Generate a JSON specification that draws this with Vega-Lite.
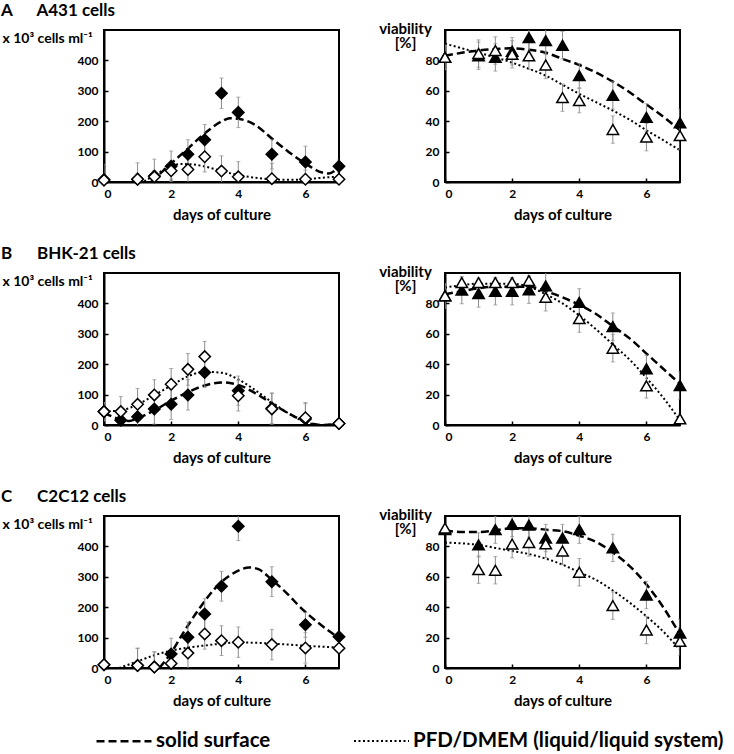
{
  "$schema": "https://vega.github.io/schema/vega-lite/v6.json",
  "padding": {"left": 0, "top": 1, "right": 5, "bottom": 5},
  "bounds": "flush",
  "columns": 2,
  "spacing": {"row": 91, "column": 106},
  "config": {
    "font": "Lato",
    "view": {"stroke": "black", "strokeWidth": 2},
    "axis": {"grid": false, "domainColor": "black", "domainWidth": 2, "tickColor": "black", "tickSize": -4, "tickWidth": 1.5, "labelFont": "Lato", "labelFontWeight": "bold", "labelFontSize": 12, "labelColor": "black", "titleFont": "Lato", "titleFontWeight": "bold", "titleColor": "black"},
    "axisX": {"labelPadding": 10, "titleFontSize": 15, "titlePadding": 8},
    "axisY": {"labelPadding": 10, "titleFontSize": 14},
    "title": {"font": "Lato", "fontSize": 17, "fontWeight": "bold", "anchor": "start", "frame": "group", "color": "black", "offset": 10, "dx": -103},
    "legend": {"orient": "none", "legendX": -9, "legendY": 682, "direction": "horizontal", "symbolType": "stroke", "symbolSize": 3025, "symbolStrokeWidth": 2.5, "symbolStrokeColor": "black", "labelFont": "Lato", "labelFontWeight": "bold", "labelFontSize": 20.5, "labelColor": "black", "labelLimit": 500, "labelOffset": 3, "columnPadding": 79}
  },
  "datasets": {
    "pts": [
      {"p": "A1", "s": "solid", "d": 0, "v": 8, "e": 50},
      {"p": "A1", "s": "solid", "d": 1, "v": 9, "e": 54},
      {"p": "A1", "s": "solid", "d": 1.5, "v": 20, "e": 55},
      {"p": "A1", "s": "solid", "d": 2, "v": 52, "e": 50},
      {"p": "A1", "s": "solid", "d": 2.5, "v": 91, "e": 48},
      {"p": "A1", "s": "solid", "d": 3, "v": 139, "e": 50},
      {"p": "A1", "s": "solid", "d": 3.5, "v": 292, "e": 50},
      {"p": "A1", "s": "solid", "d": 4, "v": 229, "e": 50},
      {"p": "A1", "s": "solid", "d": 5, "v": 91, "e": 48},
      {"p": "A1", "s": "solid", "d": 6, "v": 66, "e": 52},
      {"p": "A1", "s": "solid", "d": 7, "v": 52, "e": 20},
      {"p": "A1", "s": "pfd", "d": 0, "v": 6, "e": 20},
      {"p": "A1", "s": "pfd", "d": 1, "v": 9, "e": 20},
      {"p": "A1", "s": "pfd", "d": 1.5, "v": 17, "e": 20},
      {"p": "A1", "s": "pfd", "d": 2, "v": 37, "e": 30},
      {"p": "A1", "s": "pfd", "d": 2.5, "v": 41, "e": 50},
      {"p": "A1", "s": "pfd", "d": 3, "v": 83, "e": 50},
      {"p": "A1", "s": "pfd", "d": 3.5, "v": 36, "e": 50},
      {"p": "A1", "s": "pfd", "d": 4, "v": 17, "e": 50},
      {"p": "A1", "s": "pfd", "d": 5, "v": 11, "e": 50},
      {"p": "A1", "s": "pfd", "d": 6, "v": 9, "e": 30},
      {"p": "A1", "s": "pfd", "d": 7, "v": 9, "e": 10},

      {"p": "A2", "s": "solid", "d": 0, "v": 82, "e": 8},
      {"p": "A2", "s": "solid", "d": 1, "v": 83, "e": 9},
      {"p": "A2", "s": "solid", "d": 1.5, "v": 82, "e": 9},
      {"p": "A2", "s": "solid", "d": 2, "v": 86, "e": 9},
      {"p": "A2", "s": "solid", "d": 2.5, "v": 95, "e": 9},
      {"p": "A2", "s": "solid", "d": 3, "v": 93, "e": 9},
      {"p": "A2", "s": "solid", "d": 3.5, "v": 90, "e": 9},
      {"p": "A2", "s": "solid", "d": 4, "v": 70, "e": 8},
      {"p": "A2", "s": "solid", "d": 5, "v": 57, "e": 9},
      {"p": "A2", "s": "solid", "d": 6, "v": 42.5, "e": 9},
      {"p": "A2", "s": "solid", "d": 7, "v": 39, "e": 9},
      {"p": "A2", "s": "pfd", "d": 0, "v": 82, "e": 8},
      {"p": "A2", "s": "pfd", "d": 1, "v": 84.5, "e": 9},
      {"p": "A2", "s": "pfd", "d": 1.5, "v": 86.5, "e": 9},
      {"p": "A2", "s": "pfd", "d": 2, "v": 84, "e": 9},
      {"p": "A2", "s": "pfd", "d": 2.5, "v": 83, "e": 9},
      {"p": "A2", "s": "pfd", "d": 3, "v": 77, "e": 9},
      {"p": "A2", "s": "pfd", "d": 3.5, "v": 55.5, "e": 9},
      {"p": "A2", "s": "pfd", "d": 4, "v": 53.5, "e": 8},
      {"p": "A2", "s": "pfd", "d": 5, "v": 34.5, "e": 9},
      {"p": "A2", "s": "pfd", "d": 6, "v": 29.5, "e": 9},
      {"p": "A2", "s": "pfd", "d": 7, "v": 30.5, "e": 9},

      {"p": "B1", "s": "solid", "d": 0, "v": 44, "e": 30},
      {"p": "B1", "s": "solid", "d": 0.5, "v": 16, "e": 40},
      {"p": "B1", "s": "solid", "d": 1, "v": 27, "e": 45},
      {"p": "B1", "s": "solid", "d": 1.5, "v": 53, "e": 50},
      {"p": "B1", "s": "solid", "d": 2, "v": 68, "e": 50},
      {"p": "B1", "s": "solid", "d": 2.5, "v": 99, "e": 50},
      {"p": "B1", "s": "solid", "d": 3, "v": 173, "e": 50},
      {"p": "B1", "s": "solid", "d": 4, "v": 113, "e": 48},
      {"p": "B1", "s": "solid", "d": 5, "v": 55, "e": 50},
      {"p": "B1", "s": "solid", "d": 6, "v": 20, "e": 50},
      {"p": "B1", "s": "solid", "d": 7, "v": 5, "e": 10},
      {"p": "B1", "s": "pfd", "d": 0, "v": 44, "e": 30},
      {"p": "B1", "s": "pfd", "d": 0.5, "v": 44, "e": 50},
      {"p": "B1", "s": "pfd", "d": 1, "v": 68, "e": 52},
      {"p": "B1", "s": "pfd", "d": 1.5, "v": 99, "e": 50},
      {"p": "B1", "s": "pfd", "d": 2, "v": 134, "e": 52},
      {"p": "B1", "s": "pfd", "d": 2.5, "v": 183, "e": 52},
      {"p": "B1", "s": "pfd", "d": 3, "v": 225, "e": 50},
      {"p": "B1", "s": "pfd", "d": 4, "v": 96, "e": 50},
      {"p": "B1", "s": "pfd", "d": 5, "v": 53, "e": 52},
      {"p": "B1", "s": "pfd", "d": 6, "v": 24, "e": 50},
      {"p": "B1", "s": "pfd", "d": 7, "v": 5, "e": 8},

      {"p": "B2", "s": "solid", "d": 0, "v": 85, "e": 8},
      {"p": "B2", "s": "solid", "d": 0.5, "v": 88.7, "e": 9},
      {"p": "B2", "s": "solid", "d": 1, "v": 86.5, "e": 9},
      {"p": "B2", "s": "solid", "d": 1.5, "v": 88, "e": 9},
      {"p": "B2", "s": "solid", "d": 2, "v": 88, "e": 9},
      {"p": "B2", "s": "solid", "d": 2.5, "v": 89, "e": 9},
      {"p": "B2", "s": "solid", "d": 3, "v": 91.5, "e": 9},
      {"p": "B2", "s": "solid", "d": 4, "v": 80.7, "e": 9},
      {"p": "B2", "s": "solid", "d": 5, "v": 64.7, "e": 9},
      {"p": "B2", "s": "solid", "d": 6, "v": 37, "e": 9},
      {"p": "B2", "s": "solid", "d": 7, "v": 26, "e": 9},
      {"p": "B2", "s": "pfd", "d": 0, "v": 85, "e": 8},
      {"p": "B2", "s": "pfd", "d": 0.5, "v": 93.7, "e": 3},
      {"p": "B2", "s": "pfd", "d": 1, "v": 93.7, "e": 3},
      {"p": "B2", "s": "pfd", "d": 1.5, "v": 93.7, "e": 3},
      {"p": "B2", "s": "pfd", "d": 2, "v": 93.7, "e": 3},
      {"p": "B2", "s": "pfd", "d": 2.5, "v": 95, "e": 3},
      {"p": "B2", "s": "pfd", "d": 3, "v": 84, "e": 9},
      {"p": "B2", "s": "pfd", "d": 4, "v": 70, "e": 9},
      {"p": "B2", "s": "pfd", "d": 5, "v": 50.5, "e": 9},
      {"p": "B2", "s": "pfd", "d": 6, "v": 25.7, "e": 8},
      {"p": "B2", "s": "pfd", "d": 7, "v": 4, "e": 3},

      {"p": "C1", "s": "solid", "d": 0, "v": 11, "e": 10},
      {"p": "C1", "s": "solid", "d": 1, "v": 8, "e": 57},
      {"p": "C1", "s": "solid", "d": 1.5, "v": 3, "e": 50},
      {"p": "C1", "s": "solid", "d": 2, "v": 46, "e": 52},
      {"p": "C1", "s": "solid", "d": 2.5, "v": 101, "e": 50},
      {"p": "C1", "s": "solid", "d": 3, "v": 178, "e": 50},
      {"p": "C1", "s": "solid", "d": 3.5, "v": 269, "e": 49},
      {"p": "C1", "s": "solid", "d": 4, "v": 466, "e": 47},
      {"p": "C1", "s": "solid", "d": 5, "v": 284, "e": 49},
      {"p": "C1", "s": "solid", "d": 6, "v": 142, "e": 41},
      {"p": "C1", "s": "solid", "d": 7, "v": 103, "e": 10},
      {"p": "C1", "s": "pfd", "d": 0, "v": 11, "e": 10},
      {"p": "C1", "s": "pfd", "d": 1, "v": 8, "e": 57},
      {"p": "C1", "s": "pfd", "d": 1.5, "v": 3, "e": 50},
      {"p": "C1", "s": "pfd", "d": 2, "v": 15, "e": 40},
      {"p": "C1", "s": "pfd", "d": 2.5, "v": 49, "e": 50},
      {"p": "C1", "s": "pfd", "d": 3, "v": 112, "e": 50},
      {"p": "C1", "s": "pfd", "d": 3.5, "v": 90, "e": 49},
      {"p": "C1", "s": "pfd", "d": 4, "v": 85, "e": 50},
      {"p": "C1", "s": "pfd", "d": 5, "v": 77, "e": 50},
      {"p": "C1", "s": "pfd", "d": 6, "v": 66, "e": 50},
      {"p": "C1", "s": "pfd", "d": 7, "v": 65, "e": 10},

      {"p": "C2", "s": "solid", "d": 0, "v": 91, "e": 3},
      {"p": "C2", "s": "solid", "d": 1, "v": 81, "e": 8},
      {"p": "C2", "s": "solid", "d": 1.5, "v": 91, "e": 9},
      {"p": "C2", "s": "solid", "d": 2, "v": 94.5, "e": 8},
      {"p": "C2", "s": "solid", "d": 2.5, "v": 94, "e": 8},
      {"p": "C2", "s": "solid", "d": 3, "v": 85.5, "e": 9},
      {"p": "C2", "s": "solid", "d": 3.5, "v": 85.5, "e": 9},
      {"p": "C2", "s": "solid", "d": 4, "v": 91, "e": 9},
      {"p": "C2", "s": "solid", "d": 5, "v": 79, "e": 9},
      {"p": "C2", "s": "solid", "d": 6, "v": 48, "e": 9},
      {"p": "C2", "s": "solid", "d": 7, "v": 23, "e": 9},
      {"p": "C2", "s": "pfd", "d": 0, "v": 92, "e": 3},
      {"p": "C2", "s": "pfd", "d": 1, "v": 64.7, "e": 9},
      {"p": "C2", "s": "pfd", "d": 1.5, "v": 64.3, "e": 9},
      {"p": "C2", "s": "pfd", "d": 2, "v": 81.5, "e": 9},
      {"p": "C2", "s": "pfd", "d": 2.5, "v": 82.6, "e": 9},
      {"p": "C2", "s": "pfd", "d": 3, "v": 81.7, "e": 9},
      {"p": "C2", "s": "pfd", "d": 3.5, "v": 77, "e": 9},
      {"p": "C2", "s": "pfd", "d": 4, "v": 63, "e": 9},
      {"p": "C2", "s": "pfd", "d": 5, "v": 41, "e": 9},
      {"p": "C2", "s": "pfd", "d": 6, "v": 25, "e": 9},
      {"p": "C2", "s": "pfd", "d": 7, "v": 17.5, "e": 9}
    ],
    "fit": [
      {"p": "A1", "s": "solid", "d": 1.4, "v": 0},
      {"p": "A1", "s": "solid", "d": 2, "v": 61},
      {"p": "A1", "s": "solid", "d": 2.5, "v": 110},
      {"p": "A1", "s": "solid", "d": 3, "v": 160},
      {"p": "A1", "s": "solid", "d": 3.5, "v": 199},
      {"p": "A1", "s": "solid", "d": 3.75, "v": 210},
      {"p": "A1", "s": "solid", "d": 4, "v": 208},
      {"p": "A1", "s": "solid", "d": 4.5, "v": 188},
      {"p": "A1", "s": "solid", "d": 5, "v": 143},
      {"p": "A1", "s": "solid", "d": 5.5, "v": 99},
      {"p": "A1", "s": "solid", "d": 6, "v": 61},
      {"p": "A1", "s": "solid", "d": 6.5, "v": 31},
      {"p": "A1", "s": "solid", "d": 6.7, "v": 28},
      {"p": "A1", "s": "solid", "d": 6.85, "v": 35},
      {"p": "A1", "s": "solid", "d": 7, "v": 52},
      {"p": "A1", "s": "pfd", "d": 1.2, "v": 2},
      {"p": "A1", "s": "pfd", "d": 1.5, "v": 22},
      {"p": "A1", "s": "pfd", "d": 2, "v": 52},
      {"p": "A1", "s": "pfd", "d": 2.3, "v": 59},
      {"p": "A1", "s": "pfd", "d": 2.6, "v": 58},
      {"p": "A1", "s": "pfd", "d": 3, "v": 51},
      {"p": "A1", "s": "pfd", "d": 3.5, "v": 36},
      {"p": "A1", "s": "pfd", "d": 4, "v": 23},
      {"p": "A1", "s": "pfd", "d": 4.5, "v": 14},
      {"p": "A1", "s": "pfd", "d": 5, "v": 9},
      {"p": "A1", "s": "pfd", "d": 5.5, "v": 7},
      {"p": "A1", "s": "pfd", "d": 6, "v": 9},
      {"p": "A1", "s": "pfd", "d": 6.5, "v": 14},
      {"p": "A1", "s": "pfd", "d": 7, "v": 18},

      {"p": "A2", "s": "solid", "d": 0, "v": 83},
      {"p": "A2", "s": "solid", "d": 0.5, "v": 85},
      {"p": "A2", "s": "solid", "d": 1, "v": 86.5},
      {"p": "A2", "s": "solid", "d": 1.5, "v": 87.5},
      {"p": "A2", "s": "solid", "d": 2, "v": 88},
      {"p": "A2", "s": "solid", "d": 2.5, "v": 87},
      {"p": "A2", "s": "solid", "d": 3, "v": 85},
      {"p": "A2", "s": "solid", "d": 3.5, "v": 81},
      {"p": "A2", "s": "solid", "d": 4, "v": 77},
      {"p": "A2", "s": "solid", "d": 4.5, "v": 72},
      {"p": "A2", "s": "solid", "d": 5, "v": 66},
      {"p": "A2", "s": "solid", "d": 5.5, "v": 59},
      {"p": "A2", "s": "solid", "d": 6, "v": 51},
      {"p": "A2", "s": "solid", "d": 6.5, "v": 43},
      {"p": "A2", "s": "solid", "d": 7, "v": 34},
      {"p": "A2", "s": "pfd", "d": 0, "v": 91},
      {"p": "A2", "s": "pfd", "d": 0.5, "v": 88},
      {"p": "A2", "s": "pfd", "d": 1, "v": 85},
      {"p": "A2", "s": "pfd", "d": 1.5, "v": 82},
      {"p": "A2", "s": "pfd", "d": 2, "v": 78.5},
      {"p": "A2", "s": "pfd", "d": 2.5, "v": 74.5},
      {"p": "A2", "s": "pfd", "d": 3, "v": 70},
      {"p": "A2", "s": "pfd", "d": 3.5, "v": 64},
      {"p": "A2", "s": "pfd", "d": 4, "v": 58},
      {"p": "A2", "s": "pfd", "d": 4.5, "v": 52.5},
      {"p": "A2", "s": "pfd", "d": 5, "v": 47},
      {"p": "A2", "s": "pfd", "d": 5.5, "v": 41},
      {"p": "A2", "s": "pfd", "d": 6, "v": 34},
      {"p": "A2", "s": "pfd", "d": 6.5, "v": 27.5},
      {"p": "A2", "s": "pfd", "d": 7, "v": 21},

      {"p": "B1", "s": "solid", "d": 0, "v": 40},
      {"p": "B1", "s": "solid", "d": 0.5, "v": 18},
      {"p": "B1", "s": "solid", "d": 0.75, "v": 13},
      {"p": "B1", "s": "solid", "d": 1, "v": 22},
      {"p": "B1", "s": "solid", "d": 1.5, "v": 48},
      {"p": "B1", "s": "solid", "d": 2, "v": 80},
      {"p": "B1", "s": "solid", "d": 2.5, "v": 108},
      {"p": "B1", "s": "solid", "d": 3, "v": 130},
      {"p": "B1", "s": "solid", "d": 3.5, "v": 140},
      {"p": "B1", "s": "solid", "d": 4, "v": 132},
      {"p": "B1", "s": "solid", "d": 4.5, "v": 105},
      {"p": "B1", "s": "solid", "d": 5, "v": 71},
      {"p": "B1", "s": "solid", "d": 5.5, "v": 38},
      {"p": "B1", "s": "solid", "d": 6, "v": 11},
      {"p": "B1", "s": "solid", "d": 6.5, "v": 0},
      {"p": "B1", "s": "solid", "d": 7, "v": 4},
      {"p": "B1", "s": "pfd", "d": 0, "v": 45},
      {"p": "B1", "s": "pfd", "d": 0.5, "v": 48},
      {"p": "B1", "s": "pfd", "d": 1, "v": 68},
      {"p": "B1", "s": "pfd", "d": 1.5, "v": 98},
      {"p": "B1", "s": "pfd", "d": 2, "v": 130},
      {"p": "B1", "s": "pfd", "d": 2.5, "v": 160},
      {"p": "B1", "s": "pfd", "d": 3, "v": 175},
      {"p": "B1", "s": "pfd", "d": 3.5, "v": 172},
      {"p": "B1", "s": "pfd", "d": 4, "v": 150},
      {"p": "B1", "s": "pfd", "d": 4.5, "v": 115},
      {"p": "B1", "s": "pfd", "d": 5, "v": 75},
      {"p": "B1", "s": "pfd", "d": 5.5, "v": 38},
      {"p": "B1", "s": "pfd", "d": 6, "v": 10},
      {"p": "B1", "s": "pfd", "d": 6.5, "v": 0},
      {"p": "B1", "s": "pfd", "d": 7, "v": 3},

      {"p": "B2", "s": "solid", "d": 0, "v": 86},
      {"p": "B2", "s": "solid", "d": 0.5, "v": 88},
      {"p": "B2", "s": "solid", "d": 1, "v": 90},
      {"p": "B2", "s": "solid", "d": 1.5, "v": 91},
      {"p": "B2", "s": "solid", "d": 2, "v": 91},
      {"p": "B2", "s": "solid", "d": 2.5, "v": 91},
      {"p": "B2", "s": "solid", "d": 3, "v": 88},
      {"p": "B2", "s": "solid", "d": 3.5, "v": 84},
      {"p": "B2", "s": "solid", "d": 4, "v": 79},
      {"p": "B2", "s": "solid", "d": 4.5, "v": 73},
      {"p": "B2", "s": "solid", "d": 5, "v": 65},
      {"p": "B2", "s": "solid", "d": 5.5, "v": 57},
      {"p": "B2", "s": "solid", "d": 6, "v": 47},
      {"p": "B2", "s": "solid", "d": 6.5, "v": 37},
      {"p": "B2", "s": "solid", "d": 7, "v": 27},
      {"p": "B2", "s": "pfd", "d": 0, "v": 90.5},
      {"p": "B2", "s": "pfd", "d": 0.5, "v": 92},
      {"p": "B2", "s": "pfd", "d": 1, "v": 93},
      {"p": "B2", "s": "pfd", "d": 1.5, "v": 93},
      {"p": "B2", "s": "pfd", "d": 2, "v": 93},
      {"p": "B2", "s": "pfd", "d": 2.5, "v": 91},
      {"p": "B2", "s": "pfd", "d": 3, "v": 86},
      {"p": "B2", "s": "pfd", "d": 3.5, "v": 80},
      {"p": "B2", "s": "pfd", "d": 4, "v": 72},
      {"p": "B2", "s": "pfd", "d": 4.5, "v": 63},
      {"p": "B2", "s": "pfd", "d": 5, "v": 53},
      {"p": "B2", "s": "pfd", "d": 5.5, "v": 43},
      {"p": "B2", "s": "pfd", "d": 6, "v": 31},
      {"p": "B2", "s": "pfd", "d": 6.5, "v": 18},
      {"p": "B2", "s": "pfd", "d": 7, "v": 3},

      {"p": "C1", "s": "solid", "d": 1.65, "v": 0},
      {"p": "C1", "s": "solid", "d": 2, "v": 50},
      {"p": "C1", "s": "solid", "d": 2.33, "v": 110},
      {"p": "C1", "s": "solid", "d": 2.83, "v": 194},
      {"p": "C1", "s": "solid", "d": 3.43, "v": 276},
      {"p": "C1", "s": "solid", "d": 4, "v": 320},
      {"p": "C1", "s": "solid", "d": 4.32, "v": 331},
      {"p": "C1", "s": "solid", "d": 4.6, "v": 325},
      {"p": "C1", "s": "solid", "d": 5, "v": 290},
      {"p": "C1", "s": "solid", "d": 5.5, "v": 240},
      {"p": "C1", "s": "solid", "d": 5.8, "v": 205},
      {"p": "C1", "s": "solid", "d": 6.3, "v": 156},
      {"p": "C1", "s": "solid", "d": 7, "v": 98},
      {"p": "C1", "s": "pfd", "d": 0.45, "v": 0},
      {"p": "C1", "s": "pfd", "d": 1, "v": 22},
      {"p": "C1", "s": "pfd", "d": 1.5, "v": 42},
      {"p": "C1", "s": "pfd", "d": 2, "v": 57},
      {"p": "C1", "s": "pfd", "d": 2.5, "v": 67},
      {"p": "C1", "s": "pfd", "d": 3, "v": 74},
      {"p": "C1", "s": "pfd", "d": 3.5, "v": 80},
      {"p": "C1", "s": "pfd", "d": 4, "v": 84},
      {"p": "C1", "s": "pfd", "d": 4.5, "v": 83},
      {"p": "C1", "s": "pfd", "d": 5, "v": 80},
      {"p": "C1", "s": "pfd", "d": 5.5, "v": 77},
      {"p": "C1", "s": "pfd", "d": 6, "v": 73},
      {"p": "C1", "s": "pfd", "d": 6.5, "v": 70},
      {"p": "C1", "s": "pfd", "d": 7, "v": 67},

      {"p": "C2", "s": "solid", "d": 0, "v": 90.5},
      {"p": "C2", "s": "solid", "d": 0.5, "v": 89.5},
      {"p": "C2", "s": "solid", "d": 1, "v": 89.5},
      {"p": "C2", "s": "solid", "d": 1.5, "v": 90.5},
      {"p": "C2", "s": "solid", "d": 2, "v": 92},
      {"p": "C2", "s": "solid", "d": 2.5, "v": 92},
      {"p": "C2", "s": "solid", "d": 3, "v": 91},
      {"p": "C2", "s": "solid", "d": 3.5, "v": 90},
      {"p": "C2", "s": "solid", "d": 4, "v": 87},
      {"p": "C2", "s": "solid", "d": 4.5, "v": 83},
      {"p": "C2", "s": "solid", "d": 5, "v": 76},
      {"p": "C2", "s": "solid", "d": 5.5, "v": 67},
      {"p": "C2", "s": "solid", "d": 6, "v": 55},
      {"p": "C2", "s": "solid", "d": 6.5, "v": 40},
      {"p": "C2", "s": "solid", "d": 7, "v": 22},
      {"p": "C2", "s": "pfd", "d": 0, "v": 82.5},
      {"p": "C2", "s": "pfd", "d": 0.5, "v": 82},
      {"p": "C2", "s": "pfd", "d": 1, "v": 81},
      {"p": "C2", "s": "pfd", "d": 1.5, "v": 79},
      {"p": "C2", "s": "pfd", "d": 2, "v": 77},
      {"p": "C2", "s": "pfd", "d": 2.5, "v": 75},
      {"p": "C2", "s": "pfd", "d": 3, "v": 72},
      {"p": "C2", "s": "pfd", "d": 3.5, "v": 68},
      {"p": "C2", "s": "pfd", "d": 4, "v": 63},
      {"p": "C2", "s": "pfd", "d": 4.5, "v": 58},
      {"p": "C2", "s": "pfd", "d": 5, "v": 51},
      {"p": "C2", "s": "pfd", "d": 5.5, "v": 43},
      {"p": "C2", "s": "pfd", "d": 6, "v": 34},
      {"p": "C2", "s": "pfd", "d": 6.5, "v": 24},
      {"p": "C2", "s": "pfd", "d": 7, "v": 12}
    ]
  },
  "concat": [
    {
      "width": 235, "height": 152,
      "title": {"text": "A\u00a0\u00a0\u00a0\u00a0\u00a0\u00a0A431 cells"},
      "encoding": {
        "x": {"field": "d", "type": "quantitative", "scale": {"domain": [0, 7], "nice": false}, "axis": {"values": [0, 2, 4, 6], "title": "days of culture"}},
        "y": {"field": "v", "type": "quantitative", "scale": {"domain": [0, 500], "nice": false}, "axis": {"values": [0, 100, 200, 300, 400], "title": "x 10³ cells ml⁻¹", "titleAngle": 0, "titleAlign": "left", "titleBaseline": "middle", "titleX": -102, "titleY": 8}}
      },
      "layer": [
        {"data": {"name": "fit"}, "transform": [{"filter": "datum.p == 'A1'"}], "mark": {"type": "line", "color": "black", "interpolate": "monotone"},
         "encoding": {"strokeDash": {"field": "s", "type": "nominal", "title": null, "scale": {"domain": ["solid", "pfd"], "range": [[8, 4], [2, 2.5]]}, "legend": {"labelExpr": "datum.value == 'solid' ? 'solid surface' : 'PFD/DMEM (liquid/liquid system)'"}},
                      "strokeWidth": {"field": "s", "type": "nominal", "scale": {"domain": ["solid", "pfd"], "range": [2.5, 2]}, "legend": null}}},
        {"data": {"name": "pts"}, "transform": [{"filter": "datum.p == 'A1'"}], "mark": {"type": "errorbar", "color": "#8c8c8c", "thickness": 1, "ticks": {"size": 4}, "clip": true}, "encoding": {"yError": {"field": "e"}}},
        {"data": {"name": "pts"}, "transform": [{"filter": "datum.p == 'A1'"}], "mark": {"type": "point", "shape": "diamond", "size": 130, "filled": true, "stroke": "black", "strokeWidth": 1.5, "opacity": 1},
         "encoding": {"fill": {"field": "s", "type": "nominal", "scale": {"domain": ["solid", "pfd"], "range": ["black", "white"]}, "legend": null}}}
      ]
    },
    {
      "width": 235, "height": 152,
      "encoding": {
        "x": {"field": "d", "type": "quantitative", "scale": {"domain": [0, 7], "nice": false}, "axis": {"values": [0, 2, 4, 6], "title": "days of culture"}},
        "y": {"field": "v", "type": "quantitative", "scale": {"domain": [0, 100], "nice": false}, "axis": {"values": [0, 20, 40, 60, 80], "title": ["viability", "[%]"], "titleAngle": 0, "titleAlign": "center", "titleBaseline": "top", "titleX": -40, "titleY": -9, "titleFontSize": 15, "titleLineHeight": 14}}
      },
      "layer": [
        {"data": {"name": "fit"}, "transform": [{"filter": "datum.p == 'A2'"}], "mark": {"type": "line", "color": "black", "interpolate": "monotone"},
         "encoding": {"strokeDash": {"field": "s", "type": "nominal", "title": null, "scale": {"domain": ["solid", "pfd"], "range": [[8, 4], [2, 2.5]]}, "legend": {"labelExpr": "datum.value == 'solid' ? 'solid surface' : 'PFD/DMEM (liquid/liquid system)'"}},
                      "strokeWidth": {"field": "s", "type": "nominal", "scale": {"domain": ["solid", "pfd"], "range": [2.5, 2]}, "legend": null}}},
        {"data": {"name": "pts"}, "transform": [{"filter": "datum.p == 'A2'"}], "mark": {"type": "errorbar", "color": "#8c8c8c", "thickness": 1, "ticks": {"size": 4}, "clip": true}, "encoding": {"yError": {"field": "e"}}},
        {"data": {"name": "pts"}, "transform": [{"filter": "datum.p == 'A2'"}], "mark": {"type": "point", "shape": "triangle-up", "size": 130, "filled": true, "stroke": "black", "strokeWidth": 1.5, "opacity": 1},
         "encoding": {"fill": {"field": "s", "type": "nominal", "scale": {"domain": ["solid", "pfd"], "range": ["black", "white"]}, "legend": null}}}
      ]
    },
    {
      "width": 235, "height": 152,
      "title": {"text": "B\u00a0\u00a0\u00a0\u00a0\u00a0\u00a0BHK-21 cells"},
      "encoding": {
        "x": {"field": "d", "type": "quantitative", "scale": {"domain": [0, 7], "nice": false}, "axis": {"values": [0, 2, 4, 6], "title": "days of culture"}},
        "y": {"field": "v", "type": "quantitative", "scale": {"domain": [0, 500], "nice": false}, "axis": {"values": [0, 100, 200, 300, 400], "title": "x 10³ cells ml⁻¹", "titleAngle": 0, "titleAlign": "left", "titleBaseline": "middle", "titleX": -102, "titleY": 8}}
      },
      "layer": [
        {"data": {"name": "fit"}, "transform": [{"filter": "datum.p == 'B1'"}], "mark": {"type": "line", "color": "black", "interpolate": "monotone"},
         "encoding": {"strokeDash": {"field": "s", "type": "nominal", "title": null, "scale": {"domain": ["solid", "pfd"], "range": [[8, 4], [2, 2.5]]}, "legend": {"labelExpr": "datum.value == 'solid' ? 'solid surface' : 'PFD/DMEM (liquid/liquid system)'"}},
                      "strokeWidth": {"field": "s", "type": "nominal", "scale": {"domain": ["solid", "pfd"], "range": [2.5, 2]}, "legend": null}}},
        {"data": {"name": "pts"}, "transform": [{"filter": "datum.p == 'B1'"}], "mark": {"type": "errorbar", "color": "#8c8c8c", "thickness": 1, "ticks": {"size": 4}, "clip": true}, "encoding": {"yError": {"field": "e"}}},
        {"data": {"name": "pts"}, "transform": [{"filter": "datum.p == 'B1'"}], "mark": {"type": "point", "shape": "diamond", "size": 130, "filled": true, "stroke": "black", "strokeWidth": 1.5, "opacity": 1},
         "encoding": {"fill": {"field": "s", "type": "nominal", "scale": {"domain": ["solid", "pfd"], "range": ["black", "white"]}, "legend": null}}}
      ]
    },
    {
      "width": 235, "height": 152,
      "encoding": {
        "x": {"field": "d", "type": "quantitative", "scale": {"domain": [0, 7], "nice": false}, "axis": {"values": [0, 2, 4, 6], "title": "days of culture"}},
        "y": {"field": "v", "type": "quantitative", "scale": {"domain": [0, 100], "nice": false}, "axis": {"values": [0, 20, 40, 60, 80], "title": ["viability", "[%]"], "titleAngle": 0, "titleAlign": "center", "titleBaseline": "top", "titleX": -40, "titleY": -9, "titleFontSize": 15, "titleLineHeight": 14}}
      },
      "layer": [
        {"data": {"name": "fit"}, "transform": [{"filter": "datum.p == 'B2'"}], "mark": {"type": "line", "color": "black", "interpolate": "monotone"},
         "encoding": {"strokeDash": {"field": "s", "type": "nominal", "title": null, "scale": {"domain": ["solid", "pfd"], "range": [[8, 4], [2, 2.5]]}, "legend": {"labelExpr": "datum.value == 'solid' ? 'solid surface' : 'PFD/DMEM (liquid/liquid system)'"}},
                      "strokeWidth": {"field": "s", "type": "nominal", "scale": {"domain": ["solid", "pfd"], "range": [2.5, 2]}, "legend": null}}},
        {"data": {"name": "pts"}, "transform": [{"filter": "datum.p == 'B2'"}], "mark": {"type": "errorbar", "color": "#8c8c8c", "thickness": 1, "ticks": {"size": 4}, "clip": true}, "encoding": {"yError": {"field": "e"}}},
        {"data": {"name": "pts"}, "transform": [{"filter": "datum.p == 'B2'"}], "mark": {"type": "point", "shape": "triangle-up", "size": 130, "filled": true, "stroke": "black", "strokeWidth": 1.5, "opacity": 1},
         "encoding": {"fill": {"field": "s", "type": "nominal", "scale": {"domain": ["solid", "pfd"], "range": ["black", "white"]}, "legend": null}}}
      ]
    },
    {
      "width": 235, "height": 152,
      "title": {"text": "C\u00a0\u00a0\u00a0\u00a0\u00a0\u00a0C2C12 cells"},
      "encoding": {
        "x": {"field": "d", "type": "quantitative", "scale": {"domain": [0, 7], "nice": false}, "axis": {"values": [0, 2, 4, 6], "title": "days of culture"}},
        "y": {"field": "v", "type": "quantitative", "scale": {"domain": [0, 500], "nice": false}, "axis": {"values": [0, 100, 200, 300, 400], "title": "x 10³ cells ml⁻¹", "titleAngle": 0, "titleAlign": "left", "titleBaseline": "middle", "titleX": -102, "titleY": 8}}
      },
      "layer": [
        {"data": {"name": "fit"}, "transform": [{"filter": "datum.p == 'C1'"}], "mark": {"type": "line", "color": "black", "interpolate": "monotone"},
         "encoding": {"strokeDash": {"field": "s", "type": "nominal", "title": null, "scale": {"domain": ["solid", "pfd"], "range": [[8, 4], [2, 2.5]]}, "legend": {"labelExpr": "datum.value == 'solid' ? 'solid surface' : 'PFD/DMEM (liquid/liquid system)'"}},
                      "strokeWidth": {"field": "s", "type": "nominal", "scale": {"domain": ["solid", "pfd"], "range": [2.5, 2]}, "legend": null}}},
        {"data": {"name": "pts"}, "transform": [{"filter": "datum.p == 'C1'"}], "mark": {"type": "errorbar", "color": "#8c8c8c", "thickness": 1, "ticks": {"size": 4}, "clip": true}, "encoding": {"yError": {"field": "e"}}},
        {"data": {"name": "pts"}, "transform": [{"filter": "datum.p == 'C1'"}], "mark": {"type": "point", "shape": "diamond", "size": 130, "filled": true, "stroke": "black", "strokeWidth": 1.5, "opacity": 1},
         "encoding": {"fill": {"field": "s", "type": "nominal", "scale": {"domain": ["solid", "pfd"], "range": ["black", "white"]}, "legend": null}}}
      ]
    },
    {
      "width": 235, "height": 152,
      "encoding": {
        "x": {"field": "d", "type": "quantitative", "scale": {"domain": [0, 7], "nice": false}, "axis": {"values": [0, 2, 4, 6], "title": "days of culture"}},
        "y": {"field": "v", "type": "quantitative", "scale": {"domain": [0, 100], "nice": false}, "axis": {"values": [0, 20, 40, 60, 80], "title": ["viability", "[%]"], "titleAngle": 0, "titleAlign": "center", "titleBaseline": "top", "titleX": -40, "titleY": -9, "titleFontSize": 15, "titleLineHeight": 14}}
      },
      "layer": [
        {"data": {"name": "fit"}, "transform": [{"filter": "datum.p == 'C2'"}], "mark": {"type": "line", "color": "black", "interpolate": "monotone"},
         "encoding": {"strokeDash": {"field": "s", "type": "nominal", "title": null, "scale": {"domain": ["solid", "pfd"], "range": [[8, 4], [2, 2.5]]}, "legend": {"labelExpr": "datum.value == 'solid' ? 'solid surface' : 'PFD/DMEM (liquid/liquid system)'"}},
                      "strokeWidth": {"field": "s", "type": "nominal", "scale": {"domain": ["solid", "pfd"], "range": [2.5, 2]}, "legend": null}}},
        {"data": {"name": "pts"}, "transform": [{"filter": "datum.p == 'C2'"}], "mark": {"type": "errorbar", "color": "#8c8c8c", "thickness": 1, "ticks": {"size": 4}, "clip": true}, "encoding": {"yError": {"field": "e"}}},
        {"data": {"name": "pts"}, "transform": [{"filter": "datum.p == 'C2'"}], "mark": {"type": "point", "shape": "triangle-up", "size": 130, "filled": true, "stroke": "black", "strokeWidth": 1.5, "opacity": 1},
         "encoding": {"fill": {"field": "s", "type": "nominal", "scale": {"domain": ["solid", "pfd"], "range": ["black", "white"]}, "legend": null}}}
      ]
    }
  ]
}
